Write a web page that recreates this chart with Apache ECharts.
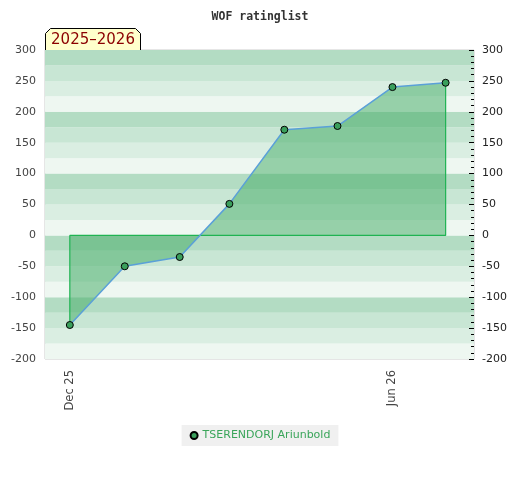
<!DOCTYPE html>
<html>
<head>
<meta charset="utf-8">
<script src="https://cdn.jsdelivr.net/npm/echarts@6/dist/echarts.min.js"></script>
<style>html,body{margin:0;padding:0;background:#fff}#c{width:520px;height:480px}</style>
</head>
<body>
<div id="c"></div>
<script>
const playerName = 'TSERENDORJ Ariunbold';
const seasonLabel = '2025\u20132026';
const dates = ['2025-12-01','2026-01-01','2026-02-01','2026-03-01','2026-04-01','2026-05-01','2026-06-01','2026-07-01'];
const ratings = [-145, -50, -35, 51, 171, 177, 240, 247];
const xLabelDates = ['2025-12-01','2026-06-01'];
const xRange = ['2025-11-17','2026-07-17'];
const yRange = [-200, 300];
const bandColors = ['#eef7f1','#daeee2','#c8e6d4','#b3dcc3'];
const monthNames = ['Jan','Feb','Mar','Apr','May','Jun','Jul','Aug','Sep','Oct','Nov','Dec'];

function ts(s){ const p = s.split('-').map(Number); return Date.UTC(p[0], p[1]-1, p[2]); }
const pts = dates.map((d,i)=>[ts(d), ratings[i]]);
const n = pts.length;
const outline = [[pts[0][0], pts[0][1]], [pts[0][0], 0], [pts[n-1][0], 0], [pts[n-1][0], pts[n-1][1]]];

const chart = echarts.init(document.getElementById('c'));
chart.setOption({
  animation: false,
  title: {
    text: 'WOF ratinglist', left: 'center', top: 6,
    textStyle: { fontFamily: 'DejaVu Sans Mono', fontSize: 11.5, fontWeight: 'bold', color: '#333' }
  },
  grid: { left: 45, right: 46, top: 50, bottom: 121, show: true, borderColor: '#ccc', borderWidth: 1, backgroundColor: 'transparent' },
  legend: {
    data: [playerName], bottom: 34, left: 'center',
    backgroundColor: '#f0f0f0', padding: [5, 8, 5, 8],
    icon: 'circle', itemWidth: 7, itemHeight: 7,
    textStyle: { color: '#3aa55a', fontSize: 11, fontFamily: 'DejaVu Sans' }
  },
  xAxis: {
    type: 'value', min: ts(xRange[0]), max: ts(xRange[1]),
    axisLine: { show: false }, axisTick: { show: false }, splitLine: { show: false },
    axisLabel: {
      customValues: xLabelDates.map(ts), rotate: 90, margin: 11,
      color: '#444', fontSize: 11.5, fontFamily: 'DejaVu Sans',
      formatter: function (v) { const d = new Date(v); return monthNames[d.getUTCMonth()] + ' ' + String(d.getUTCFullYear()).slice(2); }
    }
  },
  yAxis: [{
    type: 'value', min: yRange[0], max: yRange[1], interval: 25, position: 'left',
    axisLine: { show: false }, axisTick: { show: false }, splitLine: { show: false },
    splitArea: { show: true, areaStyle: { color: bandColors } },
    axisLabel: { color: '#444', fontSize: 11, fontFamily: 'DejaVu Sans', margin: 9,
      formatter: function (v) { return v % 50 === 0 ? String(v) : ''; } }
  }, {
    type: 'value', min: yRange[0], max: yRange[1], interval: 50, position: 'right',
    axisLine: { show: false }, splitLine: { show: false },
    axisTick: { show: true, inside: true, length: 5, lineStyle: { color: '#000' } },
    minorTick: { show: true, splitNumber: 5, length: 3, lineStyle: { color: '#000' } },
    axisLabel: { color: '#222', fontSize: 11, fontFamily: 'DejaVu Sans', margin: 8 }
  }],
  graphic: [{
    type: 'group', left: 45, top: 28,
    children: [{
      type: 'polygon',
      shape: { points: [[0,22],[0,5],[5,0],[90,0],[95,5],[95,22]] },
      style: { fill: '#ffffcc', stroke: '#000', lineWidth: 1 }
    }, {
      type: 'text', x: 47.5, y: 12,
      style: { text: seasonLabel, fill: '#8b0000', fontSize: 15, fontFamily: 'DejaVu Sans', align: 'center', verticalAlign: 'middle' }
    }]
  }],
  series: [{
    type: 'line', name: '_area', data: pts, symbol: 'none', silent: true, z: 2,
    lineStyle: { width: 0 },
    areaStyle: { origin: 0, color: 'rgb(69,172,104)', opacity: 0.52 }
  }, {
    type: 'line', name: '_outline', data: outline, symbol: 'none', silent: true,
    lineStyle: { color: '#1fb352', width: 1.2, opacity: 1 }, z: 3
  }, {
    type: 'line', name: playerName, data: pts, symbol: 'circle', symbolSize: 7, z: 4,
    lineStyle: { color: '#5aa0d8', width: 1.5 },
    itemStyle: { color: '#3a9f5c', borderColor: '#000', borderWidth: 1 }
  }]
});
</script>
</body>
</html>
